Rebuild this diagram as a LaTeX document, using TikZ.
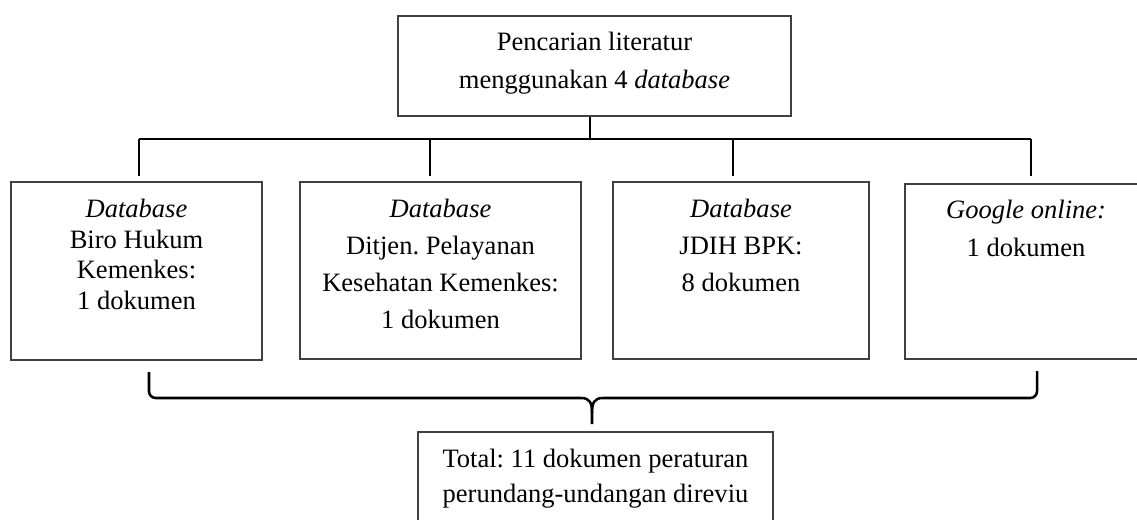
\documentclass[tikz,border=0pt]{standalone}
\usepackage{fontspec}
\setmainfont{Liberation Serif}
\frenchspacing
\begin{document}
\begin{tikzpicture}[x=0.75pt,y=-0.75pt,
  boxsty/.style={draw=black!75, line width=1pt, inner sep=0pt},
  txt/.style={anchor=north, inner sep=0pt, align=center},
  conn/.style={line width=1.9pt, black}]
\useasboundingbox (0,0) rectangle (1137,520);
\clip (0,0) rectangle (1137,520);
% boxes
\node[boxsty, minimum width=294.75pt, minimum height=75pt] (top) at (594.5,66) {};
\node[boxsty, minimum width=188.25pt, minimum height=133.5pt] (b1) at (136.5,271) {};
\node[boxsty, minimum width=210.75pt, minimum height=132.75pt] (b2) at (440.5,270.5) {};
\node[boxsty, minimum width=192pt, minimum height=132.75pt] (b3) at (741,270.5) {};
\node[boxsty, minimum width=183.75pt, minimum height=131.25pt] (b4) at (1027.5,271.5) {};
\node[boxsty, minimum width=266.25pt, minimum height=81pt] (bot) at (595.5,486) {};
% texts
\node[txt, font=\fontsize{19.9pt}{28.5pt}\selectfont\frenchspacing] (ttop) at ([yshift=-6.5pt]top.north)
  {\rule{0pt}{20pt}Pencarian literatur\\menggunakan 4 \textit{database}};
\node[txt, font=\fontsize{19.9pt}{22.9pt}\selectfont\frenchspacing] (t1) at ([yshift=-7pt]b1.north)
  {\rule{0pt}{20pt}\textit{Database}\\Biro Hukum\\Kemenkes:\\1 dokumen};
\node[txt, font=\fontsize{19.9pt}{27.75pt}\selectfont\frenchspacing] (t2) at ([yshift=-7pt]b2.north)
  {\rule{0pt}{20pt}\textit{Database}\\Ditjen.\ Pelayanan\\Kesehatan Kemenkes:\\1 dokumen};
\node[txt, font=\fontsize{19.9pt}{27.75pt}\selectfont\frenchspacing] (t3) at ([yshift=-7pt]b3.north)
  {\rule{0pt}{20pt}\textit{Database}\\JDIH BPK:\\8 dokumen};
\node[txt, font=\fontsize{19.9pt}{28.1pt}\selectfont\frenchspacing] (t4) at ([xshift=-1.1pt,yshift=-6.2pt]b4.north)
  {\rule{0pt}{20pt}\textit{Google online:}\\1 dokumen};
\node[txt, font=\fontsize{19.9pt}{26.25pt}\selectfont\frenchspacing] (tbot) at ([yshift=-7pt]bot.north)
  {\rule{0pt}{20pt}Total:\ 11 dokumen peraturan\\perundang-undangan direviu};
% tree connectors
\coordinate (hub) at (590,139);
\coordinate (j1) at (139,139);
\coordinate (j2) at (430,139);
\coordinate (j3) at (733,139);
\coordinate (j4) at (1031,139);
\coordinate (e1) at (139,176);
\coordinate (e2) at (430,176);
\coordinate (e3) at (733,176);
\coordinate (e4) at (1031,176);
\draw[conn] (hub |- top.south) -- (hub);
\draw[conn] (j1) -- (j4);
\draw[conn] (j1) -- (e1);
\draw[conn] (j2) -- (e2);
\draw[conn] (j3) -- (e3);
\draw[conn] (j4) -- (e4);
% brace
\coordinate (brL) at (149,372);
\coordinate (brR) at (1037,371);
\coordinate (brA) at (581,398);
\coordinate (brB) at (603,398);
\coordinate (brM) at (592,413);
\coordinate (brT) at (592,424);
\draw[conn, rounded corners=5pt] (brL) |- (brA);
\draw[conn, rounded corners=5pt] (brR) |- (brB);
\draw[conn] (brA) .. controls (590,398) and (592,403) .. (brM) -- (brT);
\draw[conn] (brB) .. controls (594,398) and (592,403) .. (brM);
\end{tikzpicture}
\end{document}
